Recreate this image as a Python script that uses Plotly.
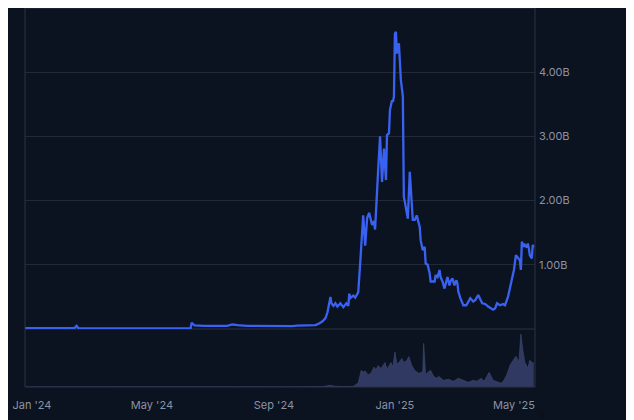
import plotly.graph_objects as go

# ---- data ----
price_dates = [
    "2023-12-25", "2024-01-29", "2024-02-13", "2024-02-15", "2024-02-17", "2024-04-08",
    "2024-06-09", "2024-06-10", "2024-06-13", "2024-06-23", "2024-07-08", "2024-07-16",
    "2024-07-21", "2024-07-26", "2024-08-05", "2024-08-22", "2024-09-07", "2024-09-20",
    "2024-09-24", "2024-10-05", "2024-10-13", "2024-10-17", "2024-10-20", "2024-10-23",
    "2024-10-25", "2024-10-28", "2024-10-29", "2024-10-31", "2024-11-02", "2024-11-04",
    "2024-11-07", "2024-11-10", "2024-11-13", "2024-11-15", "2024-11-16", "2024-11-17",
    "2024-11-20", "2024-11-22", "2024-11-25", "2024-11-27", "2024-11-30", "2024-12-02",
    "2024-12-04", "2024-12-06", "2024-12-09", "2024-12-11", "2024-12-12", "2024-12-15",
    "2024-12-17", "2024-12-19", "2024-12-21", "2024-12-23", "2024-12-24", "2024-12-26",
    "2024-12-27", "2024-12-29", "2024-12-30", "2024-12-31", "2025-01-01", "2025-01-02",
    "2025-01-03", "2025-01-05", "2025-01-06", "2025-01-07", "2025-01-09", "2025-01-10",
    "2025-01-11", "2025-01-13", "2025-01-14", "2025-01-16", "2025-01-17", "2025-01-18",
    "2025-01-19", "2025-01-21", "2025-01-23", "2025-01-26", "2025-01-27", "2025-01-29",
    "2025-01-31", "2025-02-01", "2025-02-03", "2025-02-05", "2025-02-06", "2025-02-10",
    "2025-02-11", "2025-02-13", "2025-02-15", "2025-02-16", "2025-02-18", "2025-02-20",
    "2025-02-21", "2025-02-23", "2025-02-25", "2025-02-26", "2025-02-28", "2025-03-02",
    "2025-03-04", "2025-03-05", "2025-03-06", "2025-03-08", "2025-03-11", "2025-03-14",
    "2025-03-18", "2025-03-20", "2025-03-21", "2025-03-23", "2025-03-26", "2025-03-30",
    "2025-04-02", "2025-04-05", "2025-04-10", "2025-04-12", "2025-04-14", "2025-04-17",
    "2025-04-20", "2025-04-22", "2025-04-25", "2025-04-28", "2025-05-01", "2025-05-03",
    "2025-05-05", "2025-05-07", "2025-05-08", "2025-05-09", "2025-05-11", "2025-05-12",
    "2025-05-14", "2025-05-15", "2025-05-16", "2025-05-17", "2025-05-19", "2025-05-20",
    "2025-05-21",
]
price_billions = [
    0.012, 0.012, 0.014, 0.05, 0.01, 0.009,
    0.009, 0.098, 0.055, 0.048, 0.042, 0.05,
    0.072, 0.06, 0.048, 0.043, 0.043, 0.045,
    0.052, 0.056, 0.062, 0.09, 0.12, 0.17,
    0.26, 0.50, 0.40, 0.36, 0.40, 0.35,
    0.40, 0.34, 0.40, 0.36, 0.55, 0.48,
    0.52, 0.49, 0.57, 1.03, 1.77, 1.30,
    1.73, 1.81, 1.62, 1.68, 1.55, 2.45,
    3.00, 2.29, 2.81, 2.32, 3.02, 3.05,
    3.41, 3.56, 3.54, 3.62, 4.60, 4.63,
    4.29, 4.45, 4.14, 3.88, 3.62, 2.06,
    1.98, 1.75, 1.72, 2.45, 2.16, 1.90,
    1.70, 1.70, 1.77, 1.59, 1.38, 1.23,
    1.28, 1.02, 1.00, 0.87, 0.74, 0.74,
    0.84, 0.81, 0.92, 0.81, 0.74, 0.63,
    0.71, 0.81, 0.68, 0.74, 0.79, 0.68,
    0.76, 0.71, 0.58, 0.48, 0.37, 0.37,
    0.48, 0.45, 0.43, 0.45, 0.53, 0.40,
    0.39, 0.35, 0.30, 0.32, 0.40, 0.37,
    0.39, 0.37, 0.50, 0.71, 0.92, 1.15,
    1.10, 1.07, 0.92, 1.36, 1.28, 1.31,
    1.27, 1.33, 1.26, 1.15, 1.10, 1.31,
    1.27,
]

volume_dates = [
    "2023-12-25", "2024-02-15", "2024-03-10", "2024-06-10", "2024-07-21", "2024-09-15",
    "2024-10-20", "2024-10-28", "2024-11-01", "2024-11-10", "2024-11-20", "2024-11-25",
    "2024-11-28", "2024-11-30", "2024-12-02", "2024-12-05", "2024-12-08", "2024-12-11",
    "2024-12-13", "2024-12-15", "2024-12-18", "2024-12-22", "2024-12-24", "2024-12-26",
    "2024-12-28", "2024-12-30", "2025-01-01", "2025-01-03", "2025-01-05", "2025-01-08",
    "2025-01-10", "2025-01-13", "2025-01-15", "2025-01-18", "2025-01-21", "2025-01-25",
    "2025-01-29", "2025-01-30", "2025-02-01", "2025-02-03", "2025-02-06", "2025-02-09",
    "2025-02-12", "2025-02-14", "2025-02-19", "2025-02-24", "2025-03-01", "2025-03-06",
    "2025-03-11", "2025-03-16", "2025-03-21", "2025-03-24", "2025-03-26", "2025-03-29",
    "2025-04-01", "2025-04-06", "2025-04-10", "2025-04-15", "2025-04-18", "2025-04-21",
    "2025-04-24", "2025-04-27", "2025-04-30", "2025-05-03", "2025-05-06", "2025-05-08",
    "2025-05-10", "2025-05-12", "2025-05-15", "2025-05-17", "2025-05-19", "2025-05-21",
]
volume_millions = [
    2, 4, 2, 6, 3, 2,
    4, 17, 8, 5, 6, 40,
    165, 150, 160, 120, 140, 200,
    170, 215, 185, 245, 180, 210,
    245, 200, 350, 230, 245, 285,
    245, 265, 305, 215, 165, 137,
    150, 437, 120, 145, 167, 107,
    87, 107, 67, 77, 57, 87,
    67, 47, 67, 57, 67, 87,
    57, 147, 67, 47, 37, 67,
    127, 217, 267, 307, 247, 530,
    367, 247, 187, 267, 247, 240,
]

y_tick_values = [1e9, 2e9, 3e9, 4e9]
y_tick_labels = ["1.00B", "2.00B", "3.00B", "4.00B"]
x_tick_values = ["2024-01-01", "2024-05-01", "2024-09-01", "2025-01-01", "2025-05-01"]
x_tick_labels = ["Jan '24", "May '24", "Sep '24", "Jan '25", "May '25"]

# ---- style ----
BG = "#0c1320"
GRID = "#222a38"
BORDER = "#2b3344"
LINE = "#3a62f2"
VOL_FILL = "rgba(52,62,104,0.9)"
TEXT = "#8a92a5"
SPLIT = 0.153

fig = go.Figure()
fig.add_trace(go.Scatter(
    x=volume_dates, y=volume_millions, xaxis="x", yaxis="y2",
    mode="lines", line=dict(width=0.6, color="rgba(62,74,118,1)"),
    fill="tozeroy", fillcolor=VOL_FILL, hoverinfo="skip", showlegend=False,
))
fig.add_trace(go.Scatter(
    x=price_dates, y=[v * 1e9 for v in price_billions], xaxis="x", yaxis="y",
    mode="lines", line=dict(width=2.3, color=LINE), showlegend=False,
))

fig.update_layout(
    width=634, height=420,
    margin=dict(l=17, r=107, t=0, b=41),
    paper_bgcolor=BG, plot_bgcolor=BG,
    font=dict(family="Inter, Roboto, sans-serif", size=11, color=TEXT),
    xaxis=dict(
        anchor="y2", range=["2023-12-25", "2025-05-22 06:00"],
        tickvals=x_tick_values, ticktext=x_tick_labels,
        showgrid=False, zeroline=False, showline=False, ticks="",
        ticklabelstandoff=10, tickfont=dict(size=11, color=TEXT),
    ),
    yaxis=dict(
        domain=[SPLIT, 1], range=[0, 5.0e9], side="right",
        tickvals=y_tick_values, ticktext=y_tick_labels,
        showgrid=True, gridcolor=GRID, gridwidth=1,
        zeroline=False, showline=False, ticks="",
        ticklabelstandoff=3, tickfont=dict(size=11, color=TEXT),
    ),
    yaxis2=dict(
        domain=[0, SPLIT], range=[0, 580], side="right",
        showgrid=False, zeroline=False, showline=False,
        showticklabels=False, ticks="",
    ),
    shapes=[
        dict(type="rect", xref="paper", yref="paper", x0=0, x1=1, y0=0, y1=1,
             line=dict(color=BORDER, width=1), layer="above"),
        dict(type="line", xref="paper", yref="paper", x0=0, x1=1, y0=SPLIT, y1=SPLIT,
             line=dict(color=BORDER, width=1), layer="below"),
    ],
    annotations=[
        dict(text="6", xref="paper", yref="paper", x=1.003, y=-0.074,
             xanchor="left", yanchor="middle",
             showarrow=False, font=dict(size=10, color="#0a0e15")),
    ],
)

fig.write_html("out.html")
